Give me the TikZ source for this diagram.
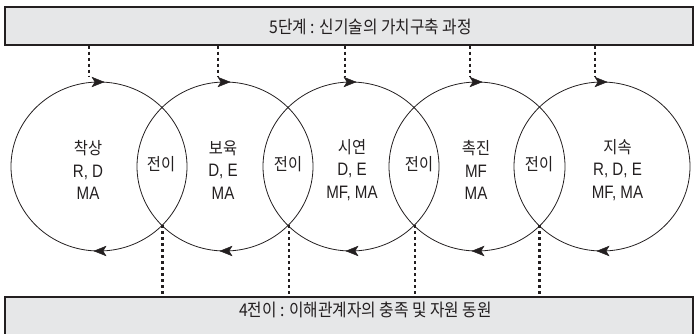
\documentclass[tikz,border=0pt]{standalone}
\usepackage{fontspec}
\setmainfont{Noto Sans CJK KR}[FakeStretch=0.9]
\newfontfamily\latinf{Liberation Sans}[FakeStretch=0.84]
\usetikzlibrary{arrows.meta,shapes.geometric}
\definecolor{bandgray}{HTML}{E6E7E8}
\definecolor{ink}{HTML}{231F20}
\newcommand{\lt}[1]{{\latinf\fontsize{18}{22.5}\selectfont #1}}
\begin{document}
\begin{tikzpicture}[x=1pt,y=-1pt,
  band/.style={draw=ink, line width=1.4pt, fill=bandgray, inner sep=0},
  loop/.style={draw=ink, ellipse, line width=0.8pt, minimum width=176pt, minimum height=169pt, inner sep=0, outer sep=0},
  link/.style={draw=ink, line width=2.4pt, dash pattern=on 3pt off 3pt},
  head/.style={fill=ink, draw=ink, line width=0.4pt, line join=miter},
  lab/.style={text=ink, align=center, inner sep=0, font=\fontsize{17}{22.5}\selectfont},
  ttl/.style={text=ink, inner sep=0, font=\fontsize{17.5}{18}\selectfont}
]
\useasboundingbox (0,0) rectangle (698,333);
\clip (0,0) rectangle (698,333);

% bands
\node[band, minimum width=688pt, minimum height=38pt] (stage) at (349,26) {};
\node[ttl] (stagetext) at (370.5,27) {5단계 : 신기술의 가치구축 과정};
\node[band, minimum width=688pt, minimum height=46pt] (flow) at (349,320) {};
\node[ttl] (flowtext) at (365.5,310) {4전이 : 이해관계자의 충족 및 자원 동원};

% circles
\node[loop] (c1) at (99,166.5) {};
\node[loop] (c2) at (225,166.5) {};
\node[loop] (c3) at (351,166.5) {};
\node[loop] (c4) at (477,166.5) {};
\node[loop] (c5) at (602,166.5) {};

% arrowheads on circles (clockwise flow)
\foreach \c in {c1,c2,c3,c4,c5}{
  \path[head] ([xshift=5pt]\c.north) -- ++(-12,-4.8) -- ++(3,4.8) -- ++(-3,4.8) -- cycle;
  \path[head] ([xshift=-5pt]\c.south) -- ++(12,-4.8) -- ++(-3,4.8) -- ++(3,4.8) -- cycle;
}

% dotted links from stage band
\coordinate (t1) at (89,76);
\coordinate (t2) at (218,76);
\coordinate (t3) at (345,76);
\coordinate (t4) at (470,76);
\coordinate (t5) at (595,76);
\foreach \t in {t1,t2,t3,t4,t5}{
  \draw[link] (\t |- stage.south) -- (\t);
}

% dotted links from intersections to flow band
\coordinate (x12) at (162.5,225);
\coordinate (x23) at (289,225);
\coordinate (x34) at (415,225);
\coordinate (x45) at (539.5,225);
\foreach \x in {x12,x23,x34,x45}{
  \draw[link] (\x) -- (\x |- flow.north);
}

% labels
\node[lab] (l1) at (88,170) {착상\\\lt{R, D}\\\lt{MA}};
\node[lab] (l2) at (223,170) {보육\\\lt{D, E}\\\lt{MA}};
\node[lab] (l3) at (352,170) {시연\\\lt{D, E}\\\lt{MF, MA}};
\node[lab] (l4) at (476,170) {촉진\\\lt{MF}\\\lt{MA}};
\node[lab] (l5) at (617.5,170) {지속\\\lt{R, D, E}\\\lt{MF, MA}};

\node[lab] (m12) at (161,164) {전이};
\node[lab] (m23) at (288,164) {전이};
\node[lab] (m34) at (419,164) {전이};
\node[lab] (m45) at (539,164) {전이};
\end{tikzpicture}
\end{document}
